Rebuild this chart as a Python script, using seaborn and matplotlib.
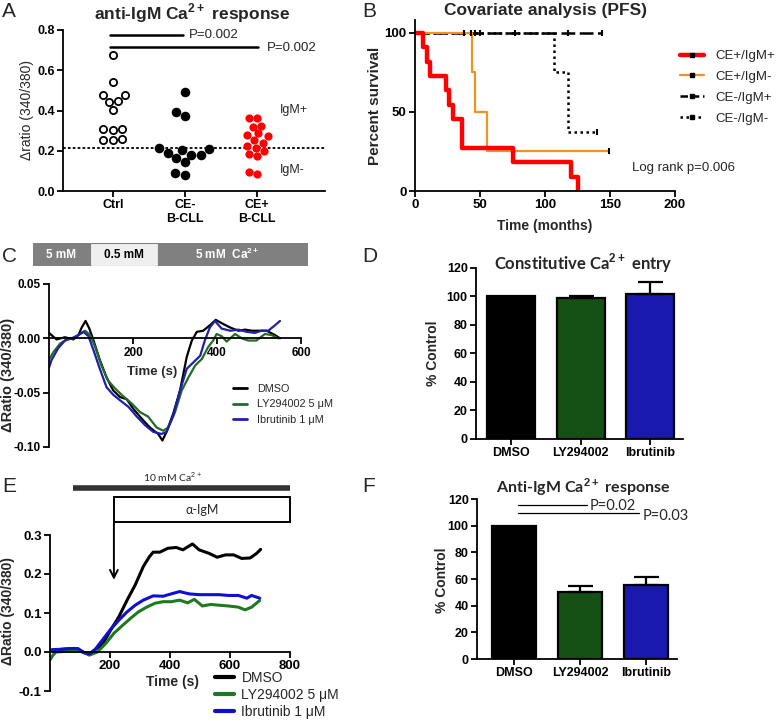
import numpy as np
import pandas as pd
import matplotlib.pyplot as plt
import seaborn as sns
from matplotlib.patches import Rectangle
from matplotlib.lines import Line2D

sns.set_style('ticks')
plt.rcParams['font.family'] = ['Liberation Sans', 'DejaVu Sans']
plt.rcParams['mathtext.fontset'] = 'custom'
plt.rcParams['mathtext.rm'] = 'Liberation Sans'
plt.rcParams['mathtext.bf'] = 'Liberation Sans:bold'
plt.rcParams['axes.linewidth'] = 1.3
plt.rcParams['axes.edgecolor'] = 'black'
plt.rcParams['xtick.color'] = 'black'
plt.rcParams['ytick.color'] = 'black'
CAL = ['Lato', 'DejaVu Sans']  # calibri-like text in the original

# ---- A: anti-IgM response per patient
a_groups = ['Ctrl', 'CE-', 'CE+']
a_ticklabels = ['Ctrl', 'CE-\nB-CLL', 'CE+\nB-CLL']
ctrl_vals = [0.676, 0.542, 0.477, 0.477, 0.447, 0.442, 0.401, 0.310, 0.303, 0.310, 0.260, 0.252, 0.252]
ce_neg_vals = [0.492, 0.394, 0.371, 0.215, 0.202, 0.210, 0.180, 0.180, 0.190, 0.164, 0.143, 0.081, 0.091]
ce_pos_vals = [0.364, 0.364, 0.318, 0.325, 0.280, 0.273, 0.287, 0.253, 0.240, 0.214, 0.224, 0.197,
               0.184, 0.172, 0.083, 0.093]
igm_cutoff = 0.215

# ---- B: Kaplan-Meier PFS
km_labels = ['CE+/IgM+', 'CE+/IgM-', 'CE-/IgM+', 'CE-/IgM-']
red_t = [0, 6.4, 9, 11.5, 23.6, 26.2, 29.5, 35.9, 75.6, 120, 125.6]
red_s = [100, 90.9, 81.8, 72.7, 63.6, 54.5, 45.5, 27.3, 18.2, 9.1, 0]
orange_t = [0, 43.6, 46.2, 55.6, 149.5]
orange_s = [100, 75, 50, 25, 25]
dash_t = [0, 144]
dash_s = [100, 100]
dash_censor = [38, 43, 46, 50, 77, 118, 144]
dot_t = [0, 107, 117.4, 139.7]
dot_s = [100, 75, 37.5, 37.5]

# ---- C: constitutive Ca2+ entry traces
c_dmso_t = [0, 18, 38, 58, 70, 78, 87, 96, 106, 121, 137, 153, 169, 185, 201, 221, 240, 260, 270, 280,
            296, 312, 328, 340, 352, 367, 383, 397, 411, 431, 451, 467, 483, 503, 518, 538, 550]
c_dmso_v = [0.005, -0.001, 0.001, -0.001, 0.003, 0.010, 0.016, 0.009, -0.002, -0.020,
            -0.036, -0.048, -0.054, -0.056, -0.065, -0.074, -0.082, -0.088, -0.094, -0.086,
            -0.069, -0.048, -0.017, -0.002, 0.006, 0.007, 0.012, 0.017, 0.014, 0.010,
            0.007, 0.008, 0.007, 0.007, 0.007, 0.003, 0.000]
c_ly_t = [0, 10, 26, 42, 58, 74, 86, 98, 110, 125, 141, 157, 173, 197, 217, 236, 256, 272, 284, 300,
          316, 332, 348, 364, 379, 391, 399, 411, 423, 443, 459, 474, 494, 514, 530, 546]
c_ly_v = [-0.020, -0.013, -0.005, -0.001, 0.000, 0.004, 0.007, 0.003, -0.008, -0.025,
          -0.039, -0.046, -0.052, -0.060, -0.068, -0.072, -0.082, -0.085, -0.082, -0.068,
          -0.048, -0.036, -0.025, -0.019, -0.008, -0.002, 0.004, 0.002, -0.003, 0.004,
          0.000, -0.002, -0.002, 0.004, 0.003, 0.000]
c_ibr_t = [0, 6, 22, 38, 54, 70, 82, 94, 106, 121, 137, 153, 169, 189, 209, 229, 248, 268, 280, 296,
           312, 328, 344, 360, 371, 383, 395, 411, 431, 451, 471, 490, 506, 522, 538, 550]
c_ibr_v = [-0.027, -0.020, -0.009, -0.002, 0.000, 0.003, 0.006, 0.002, -0.011, -0.028,
           -0.045, -0.052, -0.057, -0.063, -0.072, -0.080, -0.086, -0.088, -0.086, -0.071,
           -0.048, -0.028, -0.022, -0.016, -0.002, 0.010, 0.016, 0.009, 0.007, 0.008,
           0.006, 0.005, 0.007, 0.007, 0.012, 0.016]
trace_labels = ['DMSO', 'LY294002 5 \u03bcM', 'Ibrutinib 1 \u03bcM']

# ---- D / F: bar summaries
bar_cats = ['DMSO', 'LY294002', 'Ibrutinib']
bar_colors = ['black', '#0b5a0b', '#0000c8']
const_mean = [100, 99, 102]
const_err = [0, 1.5, 8]
igm_mean = [100, 50, 55.5]
igm_err = [0, 4.5, 6]

# ---- E: anti-IgM traces
e_dmso_t = [0, 40, 80, 115, 131, 148, 175, 202, 230, 257, 284, 311, 331, 344, 366, 393, 421, 443, 475, 497,
            530, 557, 585, 612, 639, 667, 689, 702]
e_dmso_v = [0.003, 0.007, 0.009, -0.002, -0.005, 0.005, 0.020, 0.056, 0.091, 0.133,
            0.172, 0.219, 0.244, 0.256, 0.256, 0.266, 0.268, 0.262, 0.277, 0.262,
            0.253, 0.243, 0.249, 0.249, 0.240, 0.241, 0.253, 0.263]
e_ly_t = [0, 10, 20, 60, 100, 131, 158, 186, 213, 240, 268, 295, 322, 350, 377, 404, 432, 459, 481, 508,
          536, 563, 595, 628, 650, 672, 699]
e_ly_v = [-0.020, -0.008, 0.000, 0.002, 0.003, -0.008, 0.000, 0.022, 0.048, 0.067,
          0.086, 0.103, 0.115, 0.125, 0.129, 0.129, 0.133, 0.126, 0.135, 0.118,
          0.122, 0.120, 0.118, 0.115, 0.108, 0.115, 0.132]
e_ibr_t = [0, 6, 38, 71, 93, 115, 131, 148, 175, 202, 230, 257, 284, 311, 344, 377, 404, 432, 464, 497,
           530, 563, 595, 628, 656, 672, 699]
e_ibr_v = [0.003, 0.006, 0.007, 0.009, 0.009, -0.002, -0.005, 0.004, 0.031, 0.058,
           0.082, 0.103, 0.120, 0.133, 0.144, 0.143, 0.149, 0.155, 0.149, 0.147,
           0.147, 0.147, 0.145, 0.145, 0.138, 0.145, 0.138]

W, H = 778, 721
fig = plt.figure(figsize=(W / 100, H / 100), dpi=100)


def box(x0, y0, x1, y1):
    # pixel box (origin top-left) -> figure rect
    return [x0 / W, 1 - y1 / H, (x1 - x0) / W, (y1 - y0) / H]


def finish(ax, fs=9):
    sns.despine(ax=ax)
    ax.tick_params(width=1.3, length=4, labelsize=fs, pad=2)
    for lab in ax.get_xticklabels() + ax.get_yticklabels():
        lab.set_fontweight('bold')


# panel letters
for letter, x, y in [('A', 2, 2), ('B', 362, 2), ('C', 2, 247), ('D', 362, 247), ('E', 2, 477), ('F', 362, 477)]:
    fig.text(x / W, 1 - y / H, letter, fontsize=15, va='top', ha='left')

# ================= A
axA = fig.add_axes(box(63, 30, 325, 191))
for grp, vals, face, edge, sz in [('Ctrl', ctrl_vals, 'white', 'black', 5.2),
                                  ('CE-', ce_neg_vals, 'black', 'black', 5.6),
                                  ('CE+', ce_pos_vals, 'red', 'red', 4.6)]:
    sns.swarmplot(x=[grp] * len(vals), y=vals, order=a_groups, color=face, edgecolor=edge,
                  linewidth=1.3, size=sz, ax=axA)
axA.axhline(igm_cutoff, color='black', ls=(0, (1.5, 1.2)), lw=1.3)
axA.set_ylim(0, 0.8)
axA.set_xlim(-0.69, 2.94)
axA.set_yticks(np.arange(0, 0.81, 0.2))
axA.set_yticklabels([f'{v:.1f}' for v in np.arange(0, 0.81, 0.2)])
axA.set_xticks(range(3))
axA.set_xticklabels(a_ticklabels)
axA.set_xlabel('')
axA.set_ylabel('\u0394ratio (340/380)', fontsize=10)
axA.yaxis.set_label_coords(-0.111, 0.5)
axA.plot([-0.04, 0.97], [0.775, 0.775], color='black', lw=1.8, clip_on=False)
axA.plot([-0.04, 2.01], [0.717, 0.717], color='black', lw=1.8, clip_on=False)
axA.text(1.06, 0.775, 'P=0.002', fontsize=9.5, va='center')
axA.text(2.14, 0.712, 'P=0.002', fontsize=9.5, va='center', clip_on=False)
axA.text(2.32, 0.40, 'IgM+', fontsize=9, va='center')
axA.text(2.32, 0.104, 'IgM-', fontsize=9, va='center')
finish(axA)
fig.text(192 / W, 1 - 13 / H, 'anti-IgM Ca$^{\\mathbf{2+}}$ response', ha='center', va='center',
         fontsize=12.5, fontweight='bold')

# ================= B
axB = fig.add_axes(box(415, 20, 675, 191))
sns.lineplot(x=dash_t, y=dash_s, color='black', lw=1.8, drawstyle='steps-post', errorbar=None, ax=axB)
axB.lines[-1].set_linestyle((0, (5.5, 1.8)))
sns.lineplot(x=dot_t, y=dot_s, color='black', lw=1.8, drawstyle='steps-post', errorbar=None, ax=axB)
axB.lines[-1].set_linestyle((0, (1, 1.4)))
sns.lineplot(x=orange_t, y=orange_s, color='#f39220', lw=1.6, drawstyle='steps-post', errorbar=None, ax=axB)
sns.lineplot(x=red_t, y=red_s, color='#ff0000', lw=3.2, drawstyle='steps-post', errorbar=None, ax=axB)
axB.plot(dash_censor, [100] * len(dash_censor), ls='none', marker='|', ms=4, mew=1.5, color='black')
axB.plot([orange_t[-1], dot_t[-1]], [orange_s[-1], dot_s[-1]], ls='none', marker='|', ms=4, mew=1.5,
         color='black')
axB.set_xlim(0, 200)
axB.set_ylim(0, 108.2)
axB.set_xticks([0, 50, 100, 150, 200])
axB.set_yticks([0, 50, 100])
axB.set_xlabel('Time (months)', fontsize=10, fontweight='bold')
axB.xaxis.set_label_coords(0.5, -0.164)
axB.set_ylabel('Percent survival', fontsize=11, fontweight='bold')
axB.yaxis.set_label_coords(-0.127, 0.5)
axB.text(167, 14.6, 'Log rank p=0.006', fontsize=9.5, va='center')
km_handles = [
    Line2D([], [], color='#ff0000', lw=3.2, marker='s', ms=3, mfc='black', mec='black'),
    Line2D([], [], color='#f39220', lw=1.6, marker='s', ms=2.5, mfc='black', mec='black'),
    Line2D([], [], color='black', lw=1.8, ls=(0, (3, 1.5)), marker='s', ms=2.5),
    Line2D([], [], color='black', lw=1.8, ls=(0, (1, 1.4)), marker='s', ms=2.5),
]
axB.legend(km_handles, km_labels, loc='upper left', bbox_to_anchor=(680 / W, 1 - 50 / H),
           bbox_transform=fig.transFigure, frameon=False, fontsize=9.5, borderpad=0,
           borderaxespad=0, handlelength=1.8, handletextpad=0.85, labelspacing=0.65, numpoints=1)
finish(axB, 9.5)
fig.text(545 / W, 1 - 11 / H, 'Covariate analysis (PFS)', ha='center', va='center',
         fontsize=12.5, fontweight='bold')

# ================= C
bar_ax = fig.add_axes(box(33, 243, 308, 266))
bar_ax.set_axis_off()
bar_ax.set_xlim(0, 1)
bar_ax.set_ylim(0, 1)
for x0, x1, col in [(0, 0.207, '#808080'), (0.207, 0.455, '#efefef'), (0.455, 1, '#808080')]:
    bar_ax.add_patch(Rectangle((x0, 0), x1 - x0, 1, facecolor=col, edgecolor='#808080', lw=0.8))
bar_ax.text(0.103, 0.5, '5 mM', color='white', fontweight='bold', fontsize=8.5, ha='center', va='center')
bar_ax.text(0.331, 0.5, '0.5 mM', color='black', fontweight='bold', fontsize=8.5, ha='center', va='center')
bar_ax.text(0.706, 0.5, '5 mM  Ca$^{\\mathbf{2+}}$', color='white', fontweight='bold', fontsize=8.5,
            ha='center', va='center')

axC = fig.add_axes(box(49, 284, 301, 447))
sns.lineplot(x=c_dmso_t, y=c_dmso_v, color='black', lw=1.6, label=trace_labels[0], errorbar=None, ax=axC)
sns.lineplot(x=c_ly_t, y=c_ly_v, color='#256b25', lw=1.6, label=trace_labels[1], errorbar=None, ax=axC)
sns.lineplot(x=c_ibr_t, y=c_ibr_v, color='#1f1fa8', lw=1.6, label=trace_labels[2], errorbar=None, ax=axC)
axC.spines['bottom'].set_position(('data', 0))
axC.set_xlim(0, 600)
axC.set_ylim(-0.10, 0.05)
axC.set_xticks([200, 400, 600])
axC.set_yticks([-0.10, -0.05, 0.0, 0.05])
axC.set_yticklabels(['-0.10', '-0.05', '0.00', '0.05'])
axC.set_xlabel('Time (s)', fontsize=9.5, fontweight='bold')
axC.xaxis.set_label_coords(0.41, 0.497)
axC.set_ylabel('\u0394Ratio (340/380)', fontsize=10.5, fontweight='bold')
axC.yaxis.set_label_coords(-0.135, 0.44)
axC.legend(loc='upper left', bbox_to_anchor=(233 / W, 1 - 384 / H), bbox_transform=fig.transFigure,
           frameon=False, fontsize=7.8, borderpad=0, borderaxespad=0, handlelength=1.3,
           handletextpad=0.9, labelspacing=0.5)
for ln in axC.get_legend().get_lines():
    ln.set_linewidth(2)
finish(axC, 8.5)

# ================= D
axD = fig.add_axes(box(476, 268, 683, 439))
sns.barplot(x=bar_cats, y=const_mean, hue=bar_cats, palette=bar_colors, legend=False, width=0.69,
            edgecolor='black', linewidth=1.6, errorbar=None, ax=axD)
for i, (m, e) in enumerate(zip(const_mean, const_err)):
    if e > 0:
        axD.errorbar(i, m, yerr=[[0], [e]], fmt='none', ecolor='black', elinewidth=1.6, capsize=9,
                     capthick=1.6)
axD.set_ylim(0, 120)
axD.set_xlim(-0.5, 2.47)
axD.set_yticks(range(0, 121, 20))
axD.set_ylabel('% Control', fontsize=10, fontweight='bold')
axD.yaxis.set_label_coords(-0.174, 0.5)
finish(axD)
fig.text(583 / W, 1 - 263 / H, 'Constitutive Ca$^{\\mathbf{2+}}$ entry', ha='center', va='center',
         fontsize=12, fontweight='bold', family=CAL)

# ================= E
axE = fig.add_axes(box(50, 535, 290, 691))
sns.lineplot(x=e_dmso_t, y=e_dmso_v, color='black', lw=2.2, label=trace_labels[0], errorbar=None, ax=axE)
sns.lineplot(x=e_ly_t, y=e_ly_v, color='#1f7a1f', lw=2.2, label=trace_labels[1], errorbar=None, ax=axE)
sns.lineplot(x=e_ibr_t, y=e_ibr_v, color='#0f0fd4', lw=2.2, label=trace_labels[2], errorbar=None, ax=axE)
axE.spines['bottom'].set_position(('data', 0))
axE.set_xlim(0, 800)
axE.set_ylim(-0.1, 0.3)
axE.set_xticks([200, 400, 600, 800])
axE.set_yticks([-0.1, 0.0, 0.1, 0.2, 0.3])
axE.set_yticklabels(['-0.1', '0.0', '0.1', '0.2', '0.3'])
axE.set_xlabel('Time (s)', fontsize=10, fontweight='bold')
axE.xaxis.set_label_coords(0.51, 0.10)
axE.set_ylabel('\u0394Ratio (340/380)', fontsize=10, fontweight='bold')
axE.yaxis.set_label_coords(-0.146, 0.51)
axE.plot([77, 800], [0.42, 0.42], color='#333333', lw=4, solid_capstyle='butt', clip_on=False)
axE.text(410, 0.449, '10 mM Ca$^{2+}$', ha='center', va='center', fontsize=7.5, family=CAL)
axE.add_patch(Rectangle((213, 0.333), 587, 0.064, facecolor='white', edgecolor='black', lw=1.4,
                        clip_on=False))
axE.text(506, 0.365, '\u03b1-IgM', ha='center', va='center', fontsize=9, family=CAL)
axE.annotate('', xy=(213, 0.185), xytext=(213, 0.333), annotation_clip=False,
             arrowprops=dict(arrowstyle='->', lw=1.4, color='black', mutation_scale=14,
                             shrinkA=0, shrinkB=0))
axE.legend(loc='upper left', bbox_to_anchor=(215 / W, 1 - 671 / H), bbox_transform=fig.transFigure,
           frameon=False, fontsize=10, borderpad=0, borderaxespad=0, handlelength=1.4,
           handletextpad=0.5, labelspacing=0.22)
for ln in axE.get_legend().get_lines():
    ln.set_linewidth(3)
finish(axE, 9.5)

# ================= F
axF = fig.add_axes(box(477, 499, 677, 659))
sns.barplot(x=bar_cats, y=igm_mean, hue=bar_cats, palette=bar_colors, legend=False, width=0.67,
            edgecolor='black', linewidth=1.6, errorbar=None, ax=axF)
for i, (m, e) in enumerate(zip(igm_mean, igm_err)):
    if e > 0:
        axF.errorbar(i, m, yerr=[[0], [e]], fmt='none', ecolor='black', elinewidth=1.6, capsize=9,
                     capthick=1.6)
axF.set_ylim(0, 120)
axF.set_xlim(-0.56, 2.47)
axF.set_yticks(range(0, 121, 20))
axF.set_ylabel('% Control', fontsize=10, fontweight='bold')
axF.yaxis.set_label_coords(-0.14, 0.49)
axF.plot([0.06, 1.106], [115.5, 115.5], color='black', lw=0.9, clip_on=False)
axF.plot([0.06, 1.89], [109.5, 109.5], color='black', lw=0.9, clip_on=False)
axF.text(1.15, 115.0, 'P=0.02', fontsize=10.5, va='center', family=CAL, clip_on=False)
axF.text(1.95, 107.5, 'P=0.03', fontsize=10.5, va='center', family=CAL, clip_on=False)
finish(axF)
fig.text(583 / W, 1 - 487 / H, 'Anti-IgM Ca$^{\\mathbf{2+}}$ response', ha='center', va='center',
         fontsize=11.5, fontweight='bold', family=CAL)

fig.savefig('out.png', dpi=100)
